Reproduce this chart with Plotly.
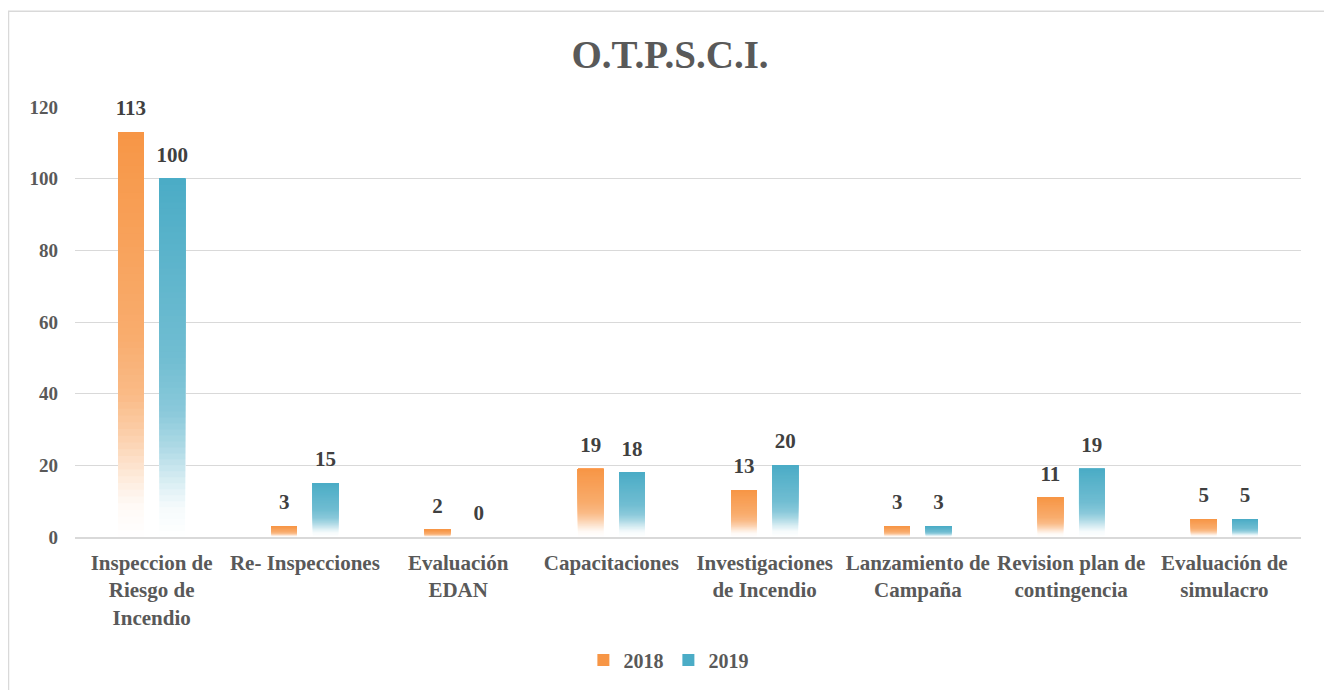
import numpy as np
import plotly.graph_objects as go

categories = ["Inspeccion de<br>Riesgo de<br>Incendio", "Re- Inspecciones", "Evaluación<br>EDAN",
              "Capacitaciones", "Investigaciones<br>de Incendio", "Lanzamiento de<br>Campaña",
              "Revision plan de<br>contingencia", "Evaluación de<br>simulacro"]
values_2018 = [113, 3, 2, 19, 13, 3, 11, 5]
values_2019 = [100, 15, 0, 18, 20, 3, 19, 5]
series = [("2018", values_2018, (247, 150, 70)), ("2019", values_2019, (75, 172, 198))]

FONT = "Liberation Serif"
N = 60
LABEL_PAD = 2.5  # transparent spacer above bars (axis units) so labels sit higher
# gradient profile: fraction from bottom -> colour strength
gt = [0, 0.08, 0.15, 0.25, 0.35, 0.5, 1.0]
gf = [0, 0.05, 0.2, 0.45, 0.65, 0.79, 1.0]

W, H = 1324, 682
L, R, T, B = 67, 31, 99, 152

fig = go.Figure()
for name, vals, rgb in series:
    vals = np.array(vals, dtype=float)
    for k in range(N):
        t = (k + 0.5) / N
        f = float(np.interp(t, gt, gf))
        col = "rgb(%d,%d,%d)" % tuple(round(255 + (c - 255) * f) for c in rgb)
        top = (k == N - 1)
        fig.add_trace(go.Bar(
            x=categories, y=vals * (1 - k / N), base=vals * k / N,
            offsetgroup=name, name=name, legendgroup=name,
            showlegend=top,
            marker=dict(color=col if not top else "rgb(%d,%d,%d)" % rgb, line=dict(width=0)),
            hoverinfo="skip",
        ))
    # transparent spacer carrying the value labels
    fig.add_trace(go.Bar(
        x=categories, y=[LABEL_PAD] * len(vals), base=vals,
        offsetgroup=name, name=name, legendgroup=name, showlegend=False,
        marker=dict(color="rgba(0,0,0,0)", line=dict(width=0)),
        text=[str(int(v)) for v in vals], textposition="outside", constraintext="none",
        textfont=dict(family=FONT, size=21, color="#404040", weight="bold"),
        cliponaxis=False, hoverinfo="skip",
    ))

fig.update_layout(
    width=W, height=H,
    paper_bgcolor="white", plot_bgcolor="white",
    barmode="group", bargap=0.46, bargroupgap=0.38,
    margin=dict(l=L, r=R, t=T, b=B),
    title=dict(text="<b>O.T.P.S.C.I.</b>", x=0.5, xanchor="center", y=1 - 46 / H, yanchor="middle",
               font=dict(family=FONT, size=39, color="#595959")),
    font=dict(family=FONT, size=20, color="#595959"),
    legend=dict(orientation="h", x=0.484, xanchor="center", y=(530 - 652) / 431, yanchor="middle",
                font=dict(family=FONT, size=20, color="#595959", weight="bold"),
                itemwidth=30, traceorder="normal"),
    showlegend=True,
)
fig.update_xaxes(showgrid=False, showline=True, linecolor="#D9D9D9", linewidth=1.5,
                 ticks="", ticklabelstandoff=6,
                 tickfont=dict(family=FONT, size=21, color="#595959", weight="bold"),
                 tickangle=0)
fig.update_yaxes(range=[0, 120], dtick=20, showgrid=True, gridcolor="#D9D9D9", gridwidth=1,
                 zeroline=False, showline=False, ticks="", ticklabelstandoff=16,
                 tickfont=dict(family=FONT, size=19, color="#595959", weight="bold"))

# outer chart border (figure pixel coords converted to paper coords)
pw, ph = W - L - R, H - T - B
plot_bottom = H - B
fig.add_shape(type="rect", xref="paper", yref="paper",
              x0=(0.5 - L) / pw, x1=(1322 - L) / pw,
              y0=(plot_bottom - 720) / ph, y1=(plot_bottom - 3) / ph,
              line=dict(color="#D9D9D9", width=1.5), fillcolor="rgba(0,0,0,0)", layer="below")

fig.write_html("out.html")
